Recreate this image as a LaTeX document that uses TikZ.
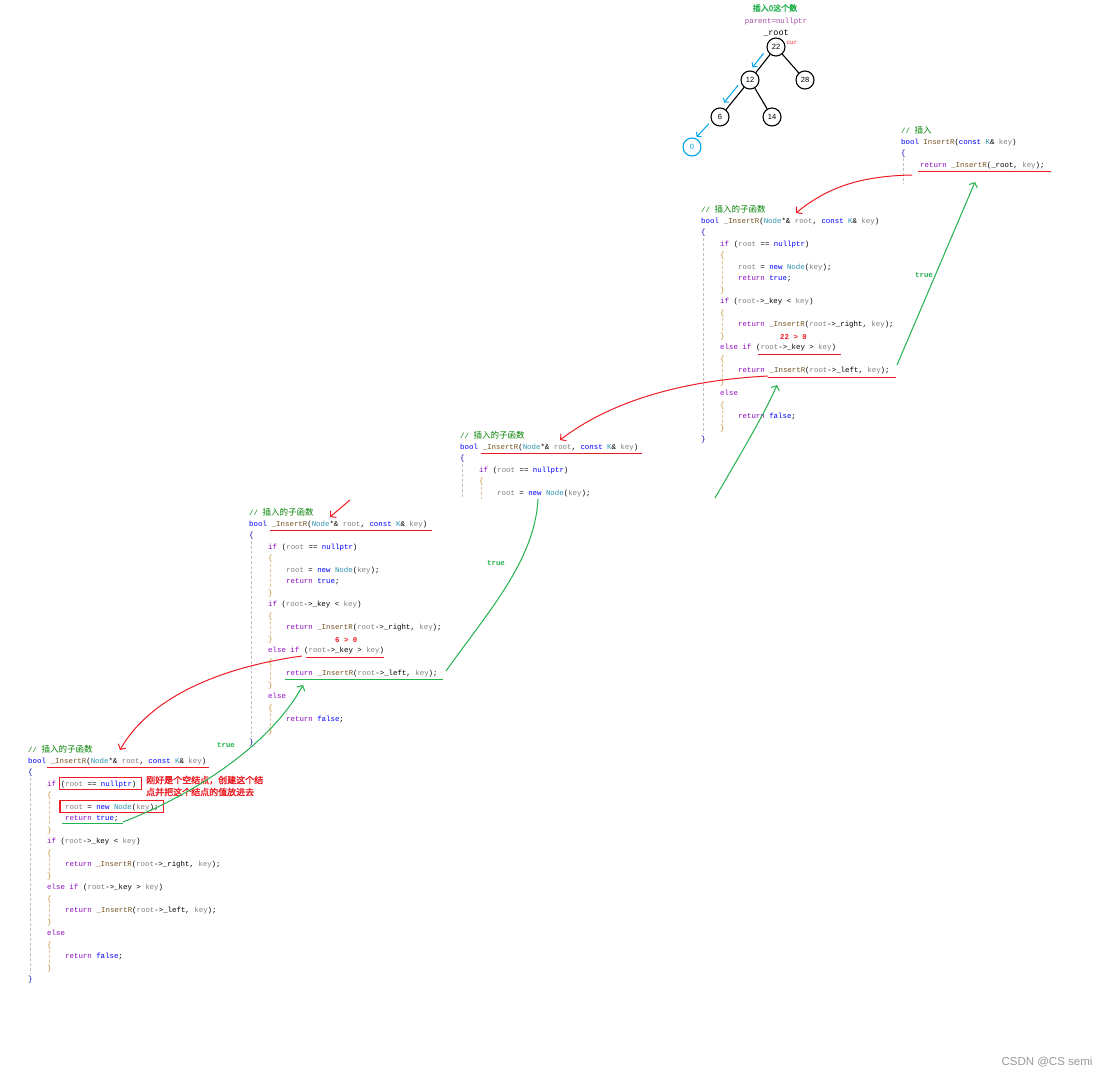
\documentclass[tikz,border=0pt]{standalone}
\usepackage{fontspec}
\setmainfont{Liberation Sans}
\setmonofont{Liberation Mono}
\newfontfamily\cjk{Noto Sans CJK SC}[AutoFakeBold=2]
\usetikzlibrary{positioning,arrows.meta}

\definecolor{pred}{RGB}{237,28,36}
\definecolor{pgreen}{RGB}{34,177,76}
\definecolor{pblue}{RGB}{0,162,232}
\definecolor{ppurple}{RGB}{163,73,164}
\definecolor{cmtgreen}{RGB}{0,128,0}
\definecolor{kwblue}{RGB}{0,0,255}
\definecolor{ctlpurple}{RGB}{143,8,196}
\definecolor{fnbrown}{RGB}{116,83,31}
\definecolor{tyteal}{RGB}{43,145,175}
\definecolor{prmgrey}{RGB}{128,128,128}
\definecolor{bracegold}{RGB}{200,140,40}

\newcommand{\cw}{4.44pt}
\newcommand{\ckw}[1]{\textcolor{kwblue}{#1}}
\newcommand{\cctl}[1]{\textcolor{ctlpurple}{#1}}
\newcommand{\cfn}[1]{\textcolor{fnbrown}{#1}}
\newcommand{\cty}[1]{\textcolor{tyteal}{#1}}
\newcommand{\cprm}[1]{\textcolor{prmgrey}{#1}}
\newcommand{\cmtmark}{{\ttfamily\fontsize{7.4}{8}\selectfont//\ }}

% one sub function, #1 name, #2 x, #3 y of the bool line
\newcommand{\subfn}[3]{%
  \begin{scope}[shift={(#2,#3)}]
    \node[cmt] (#1-c) at (0,-11.5) {\cmtmark{\cjk 插入的子函数}};
    \node[code] (#1-0) at (0,0) {\ckw{bool}};
    \node[code, right=\cw of #1-0] (#1-0s) {\cfn{\_InsertR}(\cty{Node}*\& \cprm{root}, \ckw{const} \cty{K}\& \cprm{key})};
    \node[brace] (#1-1) at (0,11.5) {\{};
    \node[code] (#1-2) at (19,23) {\cctl{if}};
    \node[code, right=\cw of #1-2] (#1-2s) {(\cprm{root} == \ckw{nullptr})};
    \node[ibrace] (#1-3) at (19,34.5) {\{};
    \node[code] (#1-4) at (37,46) {\cprm{root} = \ckw{new} \cty{Node}(\cprm{key});};
    \node[code] (#1-5) at (37,57.5) {\cctl{return} \ckw{true};};
    \node[ibrace] (#1-6) at (19,69) {\}};
    \node[code] (#1-7) at (19,80.5) {\cctl{if} (\cprm{root}->\_key < \cprm{key})};
    \node[ibrace] (#1-8) at (19,92) {\{};
    \node[code] (#1-9) at (37,103.5) {\cctl{return} \cfn{\_InsertR}(\cprm{root}->\_right, \cprm{key});};
    \node[ibrace] (#1-10) at (19,115) {\}};
    \node[code] (#1-11) at (19,126.5) {\cctl{else if}};
    \node[code, right=\cw of #1-11] (#1-11s) {(\cprm{root}->\_key > \cprm{key})};
    \node[ibrace] (#1-12) at (19,138) {\{};
    \node[code] (#1-13) at (37,149.5) {\cctl{return}};
    \node[code, right=\cw of #1-13] (#1-13s) {\cfn{\_InsertR}(\cprm{root}->\_left, \cprm{key});};
    \node[ibrace] (#1-14) at (19,161) {\}};
    \node[code] (#1-15) at (19,172.5) {\cctl{else}};
    \node[ibrace] (#1-16) at (19,184) {\{};
    \node[code] (#1-17) at (37,195.5) {\cctl{return} \ckw{false};};
    \node[ibrace] (#1-18) at (19,207) {\}};
    \node[brace] (#1-19) at (0,218.5) {\}};
    \draw[guide] (2,17) -- (2,213);
    \foreach \a/\b in {40/64, 97/110, 143/156, 189/202}
      \draw[iguide] (21,\a) -- (21,\b);
  \end{scope}}

\begin{document}
\begin{tikzpicture}[x=1pt, y=-1pt,
    code/.style={anchor=west, inner sep=0pt, text height=5.5pt, text depth=1.5pt,
      font=\ttfamily\fontsize{7.4}{8}\selectfont},
    brace/.style={code, text=kwblue!70!black},
    ibrace/.style={code, text=bracegold},
    cmt/.style={anchor=west, inner sep=0pt, text=cmtgreen, font=\fontsize{8.5}{9}\selectfont},
    guide/.style={densely dashed, black!25, line width=0.5pt},
    iguide/.style={densely dashed, bracegold!50, line width=0.5pt},
    uline/.style={draw=pred, line width=1.4pt},
    gline/.style={draw=pgreen, line width=1.4pt},
    rbox/.style={draw=pred, line width=1.3pt},
    redarr/.style={draw=pred, line width=1pt, -{Straight Barb[length=4pt, width=9pt]}},
    grnarr/.style={draw=pgreen, line width=1pt, -{Straight Barb[length=4pt, width=9pt]}},
    tnode/.style={circle, draw, line width=1.1pt, minimum size=18pt, inner sep=0pt,
      font=\fontsize{7.5}{8}\selectfont},
    tedge/.style={line width=1.1pt},
    bluearr/.style={draw=pblue, line width=1pt, -{Straight Barb[length=3pt, width=7pt]}},
    truelbl/.style={inner sep=0pt, text=pgreen, font=\ttfamily\bfseries\fontsize{7.4}{8}\selectfont}]

  \fill[white] (0,0) rectangle (1108,1076);
  \useasboundingbox (0,0) rectangle (1108,1076);

  %tree
  \node[inner sep=0pt, text=pgreen, font=\cjk\bfseries\fontsize{8}{9}\selectfont] (ttl) at (775,8) {插入0这个数};
  \node[inner sep=0pt, text=ppurple, font=\ttfamily\fontsize{7.4}{8}\selectfont] (par) at (776,22) {parent=nullptr};
  \node[inner sep=0pt, font=\ttfamily\fontsize{8.5}{9}\selectfont] (rt) at (776,33) {\_root};
  \node[inner sep=0pt, text=pred, font=\ttfamily\fontsize{6}{7}\selectfont] (cur) at (792,43) {cur};

  \node[tnode] (n22) at (776,47) {22};
  \node[tnode] (n12) at (750,80) {12};
  \node[tnode] (n28) at (805,80) {28};
  \node[tnode] (n6) at (720,117) {6};
  \node[tnode] (n14) at (772,117) {14};
  \node[tnode, draw=pblue, text=pblue] (n0) at (692,147) {0};

  \draw[tedge] (n22) -- (n12);
  \draw[tedge] (n22) -- (n28);
  \draw[tedge] (n12) -- (n6);
  \draw[tedge] (n12) -- (n14);

  \draw[bluearr, shorten <=3pt, shorten >=2pt, transform canvas={shift={(-4.6pt,3.6pt)}}] (n22) -- (n12);
  \draw[bluearr, shorten <=2pt, shorten >=4pt, transform canvas={shift={(-4.6pt,3.8pt)}}] (n12) -- (n6);
  \draw[bluearr, shorten <=3pt, shorten >=1pt, transform canvas={shift={(-2.6pt,2.4pt)}}] (n6) -- (n0);

  %InsertR
  \node[cmt] (b1-c) at (901,130) {\cmtmark{\cjk 插入}};
  \node[code] (b1-0) at (901,142) {\ckw{bool} \cfn{InsertR}(\ckw{const} \cty{K}\& \cprm{key})};
  \node[brace] (b1-1) at (901,153.5) {\{};
  \node[code] (b1-2) at (920,165) {\cctl{return} \cfn{\_InsertR}(\_root, \cprm{key});};
  \draw[guide] (903,158) -- (903,184);
  \draw[uline] ([xshift=-2pt,yshift=-3pt]b1-2.south west) -- ([xshift=6pt,yshift=-3pt]b1-2.south east);

  %_InsertR, root 22
  \subfn{b2}{701}{221}
  \node[code, text=pred, font=\ttfamily\bfseries\fontsize{7.4}{8}\selectfont] (b2-cmp) at (780,337) {22 > 0};
  \draw[uline] ([xshift=2pt,yshift=-3pt]b2-11s.south west) -- ([xshift=5pt,yshift=-3pt]b2-11s.south east);
  \draw[uline] ([xshift=-1pt,yshift=-3pt]b2-13s.south west) -- ([xshift=6pt,yshift=-3pt]b2-13s.south east);

  %_InsertR, root 12 (cut off)
  \begin{scope}
    \clip (450,425) rectangle (660,498);
    \subfn{b3}{460}{447}
  \end{scope}
  \draw[uline] ([xshift=-2pt,yshift=-3pt]b3-0s.south west) -- ([xshift=4pt,yshift=-3pt]b3-0s.south east);

  %_InsertR, root 6
  \subfn{b4}{249}{524}
  \node[code, text=pred, font=\ttfamily\bfseries\fontsize{7.4}{8}\selectfont] (b4-cmp) at (335,640) {6 > 0};
  \draw[uline] ([xshift=-2pt,yshift=-3pt]b4-0s.south west) -- ([xshift=5pt,yshift=-3pt]b4-0s.south east);
  \draw[uline] ([xshift=2pt,yshift=-3pt]b4-11s.south west) -- ([xshift=0pt,yshift=-3pt]b4-11s.south east);
  \draw[gline] ([xshift=-1pt,yshift=-2.5pt]b4-13.south west) -- ([xshift=5pt,yshift=-2.5pt]b4-13s.south east);

  %_InsertR, root nullptr
  \subfn{b5}{28}{761}
  \draw[uline] ([xshift=-4pt,yshift=-3pt]b5-0s.south west) -- ([xshift=3pt,yshift=-3pt]b5-0s.south east);
  \draw[rbox] ([xshift=-1.5pt,yshift=-2pt]b5-2s.south west) rectangle ([xshift=5pt,yshift=3pt]b5-2s.north east);
  \draw[rbox] ([xshift=-5pt,yshift=-2pt]b5-4.south west) rectangle ([xshift=5pt,yshift=3pt]b5-4.north east);
  \draw[gline] ([xshift=-3pt,yshift=-1.5pt]b5-5.south west) -- ([xshift=4pt,yshift=-1.5pt]b5-5.south east);
  \node[anchor=west, inner sep=0pt, align=left, text=pred, font=\cjk\bfseries\fontsize{9}{12}\selectfont] (note) at (146,786) {刚好是个空结点，创建这个结\\点并把这个结点的值放进去};

  %calls
  \coordinate (r1s) at (912,175);
  \coordinate (r1e) at (796,213);
  \draw[redarr] (r1s) .. controls (865,176) and (830,185) .. (r1e);
  \coordinate (r2s) at (768,376);
  \coordinate (r2e) at (560,440);
  \draw[redarr] (r2s) .. controls (690,380) and (615,398) .. (r2e);
  \coordinate (r3s) at (350,500);
  \coordinate (r3e) at (330,517);
  \draw[redarr] (r3s) -- (r3e);
  \coordinate (r4s) at (302,656);
  \coordinate (r4e) at (120,750);
  \draw[redarr] (r4s) .. controls (215,668) and (148,700) .. (r4e);

  %returns
  \coordinate (g1s) at (123,822);
  \coordinate (g1e) at (303,685);
  \draw[grnarr] (g1s) .. controls (200,792) and (272,742) .. (g1e);
  \coordinate (g2s) at (446,671);
  \coordinate (g2e) at (538,499);
  \draw[draw=pgreen, line width=1pt] (g2s) .. controls (488,612) and (535,560) .. (g2e);
  \coordinate (g3s) at (715,498);
  \coordinate (g3e) at (777,385);
  \draw[grnarr] (g3s) .. controls (740,455) and (765,413) .. (g3e);
  \coordinate (g4s) at (897,365);
  \coordinate (g4e) at (975,182);
  \draw[grnarr] (g4s) -- (g4e);

  \node[truelbl] (t1) at (226,745) {true};
  \node[truelbl] (t2) at (496,563) {true};
  \node[truelbl] (t3) at (924,275) {true};

  \node[inner sep=0pt, text=black!40, font=\fontsize{11.5}{12}\selectfont] (wm) at (1047,1062) {CSDN @CS semi};
\end{tikzpicture}
\end{document}
